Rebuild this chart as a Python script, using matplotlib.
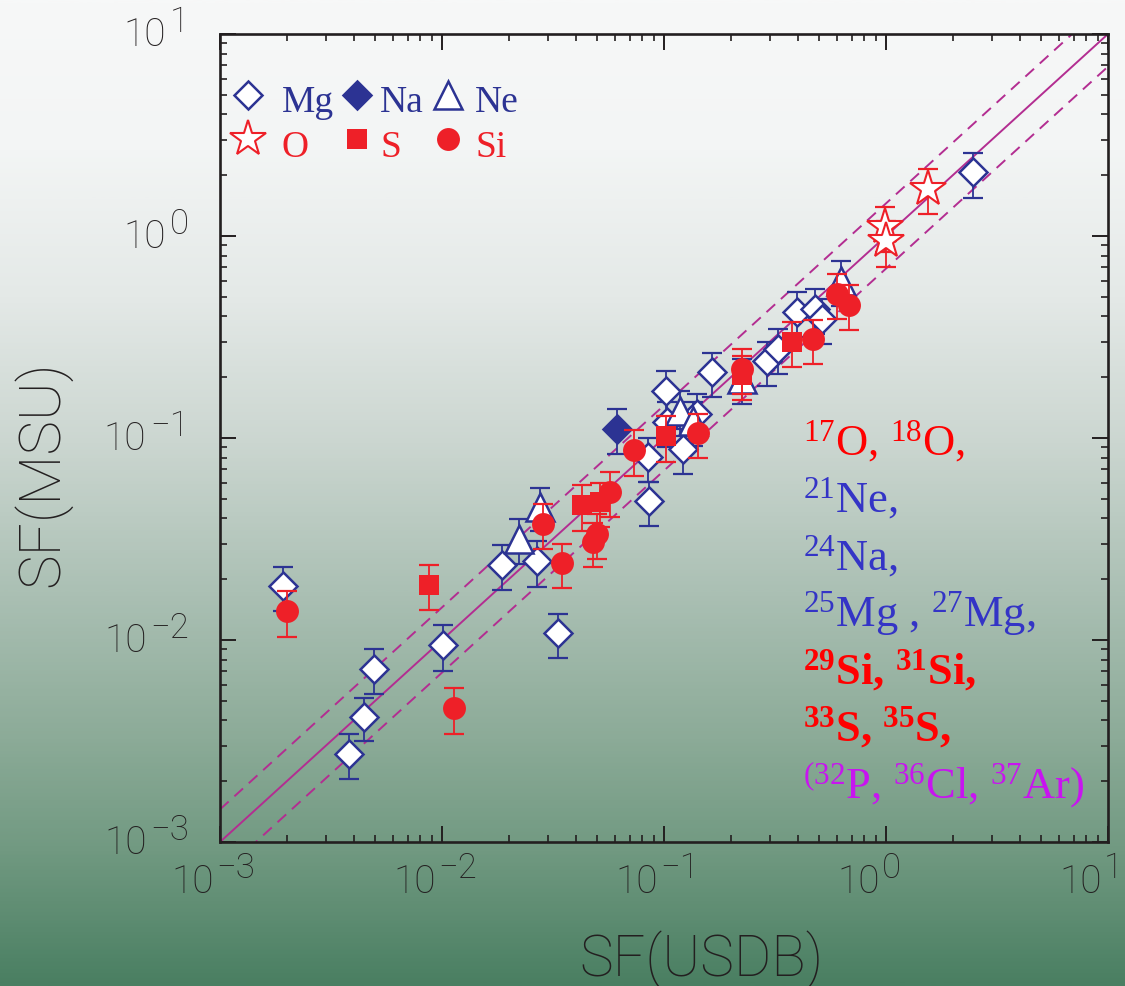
import numpy as np
import matplotlib
matplotlib.use("Agg")
import matplotlib.pyplot as plt
from matplotlib.colors import LinearSegmentedColormap
from matplotlib.ticker import LogLocator, NullFormatter

# Spectroscopic factors: x = SF(USDB), y = SF(MSU), yerr = uncertainty on SF(MSU)
mg_usdb = [0.00192, 0.00381, 0.00445, 0.00494, 0.0101, 0.0333, 0.0186, 0.0268,
           0.0856, 0.0847, 0.102, 0.122, 0.141, 0.164, 0.103, 0.291, 0.326,
           0.397, 0.479, 0.515, 2.47]
mg_msu = [0.0185, 0.00273, 0.00416, 0.00718, 0.00944, 0.0108, 0.0235, 0.0246,
          0.0488, 0.0805, 0.171, 0.0882, 0.132, 0.212, 0.120, 0.240, 0.276,
          0.421, 0.435, 0.388, 2.07]
mg_err = [0.0046, 0.00068, 0.0010, 0.0018, 0.0024, 0.0027, 0.0059, 0.0062,
          0.012, 0.020, 0.043, 0.022, 0.033, 0.053, 0.030, 0.060, 0.069,
          0.105, 0.109, 0.097, 0.52]

na_usdb = [0.0614]
na_msu = [0.111]
na_err = [0.028]

ne_usdb = [0.0276, 0.0222, 0.118, 0.135, 0.225, 0.627]
ne_msu = [0.0455, 0.0316, 0.136, 0.121, 0.196, 0.598]
ne_err = [0.011, 0.0079, 0.034, 0.030, 0.049, 0.150]

o_usdb = [1.545, 0.99, 1.0]
o_msu = [1.71, 1.11, 0.944]
o_err = [0.43, 0.28, 0.24]

s_usdb = [0.00874, 0.0427, 0.0515, 0.102, 0.225, 0.377]
s_msu = [0.0187, 0.0466, 0.0482, 0.102, 0.205, 0.299]
s_err = [0.0047, 0.012, 0.012, 0.026, 0.051, 0.075]

si_usdb = [0.00200, 0.0113, 0.0285, 0.0347, 0.0499, 0.0478, 0.0571, 0.0732,
           0.142, 0.225, 0.469, 0.601, 0.681]
si_msu = [0.0139, 0.00461, 0.0375, 0.0240, 0.0335, 0.0305, 0.0540, 0.0872,
          0.106, 0.220, 0.309, 0.516, 0.455]
si_err = [0.0035, 0.0012, 0.0094, 0.0060, 0.0084, 0.0076, 0.0135, 0.022,
          0.026, 0.055, 0.077, 0.129, 0.114]

axis_limits = [1e-3, 1e1]
decades = [-3, -2, -1, 0, 1]
band_factor = 1.45

nuclei_lines = [
    (r'$\mathregular{^{17}}$O, $\mathregular{^{18}}$O,', '#ff0000', 'normal'),
    (r'$\mathregular{^{21}}$Ne,', '#3434c6', 'normal'),
    (r'$\mathregular{^{24}}$Na,', '#3434c6', 'normal'),
    (r'$\mathregular{^{25}}$Mg , $\mathregular{^{27}}$Mg,', '#3434c6', 'normal'),
    (r'$\mathregular{^{29}}$Si, $\mathregular{^{31}}$Si,', '#ff0000', 'bold'),
    (r'$\mathregular{^{33}}$S, $\mathregular{^{35}}$S,', '#ff0000', 'bold'),
    (r'$\mathregular{^{(32}}$P, $\mathregular{^{36}}$Cl, $\mathregular{^{37}}$Ar)', '#c814f0', 'normal'),
]

BLUE = '#2c3393'
RED = '#ee2028'
LINE = '#b32d91'
INK = '#231f20'
SANS = ['Roboto', 'DejaVu Sans']
SERIF = ['Liberation Serif', 'DejaVu Serif']

# marker styles per element
STYLE = {
    'Mg': dict(marker='D', ms=14.5, mfc='white', mec=BLUE, mew=1.8),
    'Na': dict(marker='D', ms=14.5, mfc=BLUE, mec=BLUE, mew=1.8),
    'Ne': dict(marker='^', ms=20, mfc='white', mec=BLUE, mew=1.8),
    'O': dict(marker='*', ms=27, mfc='white', mec=RED, mew=1.5),
    'S': dict(marker='s', ms=14.4, mfc=RED, mec=RED, mew=0),
    'Si': dict(marker='o', ms=16.5, mfc=RED, mec=RED, mew=0),
}

fig = plt.figure(figsize=(11.25, 9.87), dpi=100)

# vertical background wash behind everything
bg = fig.add_axes([0, 0, 1, 1], zorder=-10)
wash = LinearSegmentedColormap.from_list('wash', [
    (0.00, '#f7f8f8'), (0.15, '#f3f5f5'), (0.30, '#e4e9e7'), (0.45, '#cbd6d0'),
    (0.60, '#abc0b4'), (0.75, '#8cab98'), (0.86, '#729a82'), (1.00, '#4a7f62')])
bg.imshow(np.linspace(0, 1, 600)[:, None], aspect='auto', cmap=wash,
          extent=[0, 1, 0, 1], origin='upper')
bg.set_axis_off()

ax = fig.add_axes([0.19556, 0.14590, 0.78933, 0.81864])
ax.set_facecolor('none')
ax.set_xscale('log')
ax.set_yscale('log')
ax.set_xlim(axis_limits)
ax.set_ylim(axis_limits)

# y = x and the band around it
diag = np.array(axis_limits)
ax.plot(diag, diag, color=LINE, lw=1.4, zorder=1)
ax.plot(diag, diag * band_factor, color=LINE, lw=1.4, dashes=(6, 4), zorder=1)
ax.plot(diag, diag / band_factor, color=LINE, lw=1.4, dashes=(6, 4), zorder=1)


def draw(name, x, y, err, color, z):
    ax.errorbar(x, y, yerr=err, fmt='none', ecolor=color, elinewidth=1.3,
                capsize=7.5, capthick=1.6, zorder=z)
    ax.plot(x, y, ls='none', zorder=z + 0.5, **STYLE[name])


draw('Mg', mg_usdb, mg_msu, mg_err, BLUE, 3)
draw('Na', na_usdb, na_msu, na_err, BLUE, 3)
draw('Ne', ne_usdb, ne_msu, ne_err, BLUE, 3)
draw('O', o_usdb, o_msu, o_err, RED, 4)
draw('S', s_usdb, s_msu, s_err, RED, 4)
draw('Si', si_usdb, si_msu, si_err, RED, 4)

# key in the upper left: two rows of three symbols
key_rows = [[('Mg', BLUE), ('Na', BLUE), ('Ne', BLUE)],
            [('O', RED), ('S', RED), ('Si', RED)]]
key_marker_x = [0.0315, 0.1543, 0.2568]
key_text_x = [0.0698, 0.1802, 0.2872]
key_marker_y = [0.9245, 0.8700]
key_text_y = [0.9047, 0.8490]
for r, row in enumerate(key_rows):
    for c, (name, col) in enumerate(row):
        ax.plot([key_marker_x[c]], [key_marker_y[r]], transform=ax.transAxes,
                clip_on=False, ls='none', zorder=6, **STYLE[name])
        ax.text(key_text_x[c], key_text_y[r], name, transform=ax.transAxes,
                ha='left', va='baseline', color=col, fontsize=27,
                family=SERIF, zorder=6)

# isotope list on the right
for i, (label, col, weight) in enumerate(nuclei_lines):
    ax.text(0.6565, 0.4802 - i * 0.0708, label, transform=ax.transAxes,
            ha='left', va='baseline', color=col, fontsize=32, fontweight=weight,
            family=SERIF, zorder=5)

# ticks
for axis in (ax.xaxis, ax.yaxis):
    axis.set_major_locator(LogLocator(base=10, numticks=10))
    axis.set_minor_locator(LogLocator(base=10, subs=np.arange(2, 10), numticks=100))
    axis.set_major_formatter(NullFormatter())
    axis.set_minor_formatter(NullFormatter())
ax.tick_params(which='both', direction='in', top=True, right=True, color=INK)
ax.tick_params(which='major', length=11.5, width=1.4)
ax.tick_params(which='minor', length=5, width=1.2)
for sp in ax.spines.values():
    sp.set_linewidth(1.9)
    sp.set_color(INK)

# decade labels drawn as "10" with a raised exponent
lab = dict(family=SANS, weight='light', color=INK, annotation_clip=False)
for d in decades:
    v = 10.0 ** d
    expo = str(d).replace('-', '\u2212')
    ten = ax.annotate('10', xy=(v, 0), xycoords=('data', 'axes fraction'),
                      xytext=(-4.5, -28), textcoords='offset points',
                      ha='right', va='center', fontsize=28, **lab)
    ax.annotate(expo, xy=(1, 0.5), xycoords=ten, xytext=(1.5, 9.5),
                textcoords='offset points', ha='left', va='center',
                fontsize=25, **lab)
    ex = ax.annotate(expo, xy=(0, v), xycoords=('axes fraction', 'data'),
                     xytext=(-22.5, 9.5), textcoords='offset points',
                     ha='right', va='center', fontsize=25, **lab)
    ax.annotate('10', xy=(0, 0.5), xycoords=ex, xytext=(-2.5, -9.5),
                textcoords='offset points', ha='right', va='center',
                fontsize=28, **lab)

ax.set_xlabel('SF(USDB)', fontsize=41, family=SANS, weight='light', color=INK)
ax.set_ylabel('SF(MSU)', fontsize=42, family=SANS, weight='light', color=INK)
ax.xaxis.set_label_coords(0.542, -0.108)
ax.yaxis.set_label_coords(-0.168, 0.457)

fig.savefig('out.png', dpi=100)
